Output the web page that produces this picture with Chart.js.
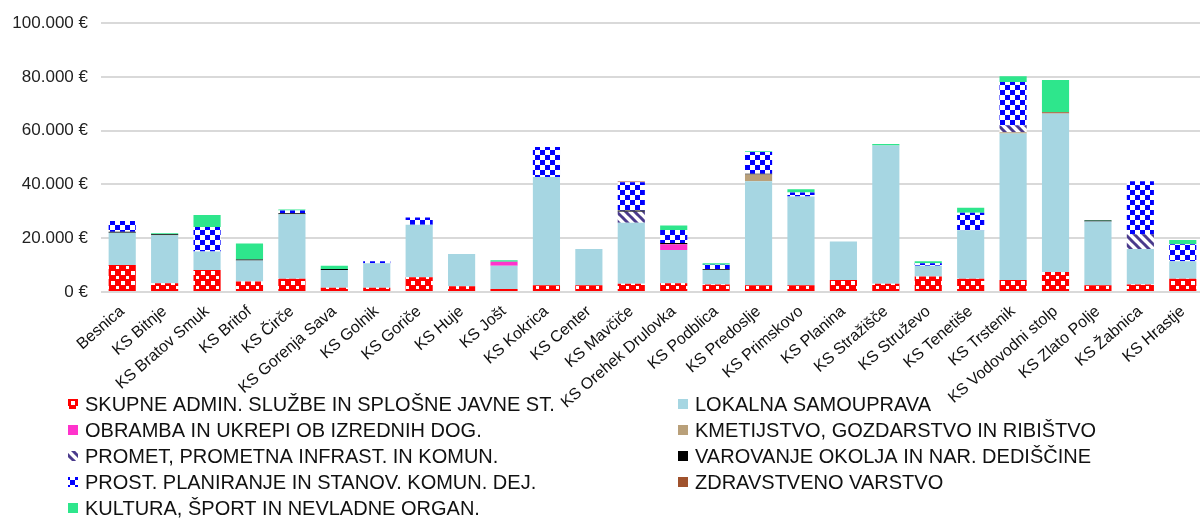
<!DOCTYPE html>
<html>
<head>
<meta charset="utf-8">
<title>Proračun KS po področjih</title>
<script src="https://cdn.jsdelivr.net/npm/chart.js@4"></script>
<style>
  html, body { margin: 0; padding: 0; background: #fff; overflow: hidden; }
  #wrap { width: 1204px; height: 519px; }
</style>
</head>
<body>
<div id="wrap"><canvas id="chart"></canvas></div>
<script>
// Categories (krajevne skupnosti)
const categories = [
    "Besnica", "KS Bitnje", "KS Bratov Smuk", "KS Britof", "KS Čirče", "KS Gorenja Sava",
    "KS Golnik", "KS Goriče", "KS Huje", "KS Jošt", "KS Kokrica", "KS Center", "KS Mavčiče",
    "KS Orehek Drulovka", "KS Podblica", "KS Predoslje", "KS Primskovo", "KS Planina",
    "KS Stražišče", "KS Struževo", "KS Tenetiše", "KS Trstenik", "KS Vodovodni stolp",
    "KS Zlato Polje", "KS Žabnica", "KS Hrastje",
]

// Series values in EUR
const skupne = [10000, 3300, 8200, 3900, 4900, 1600, 1600, 5500, 2100, 1100, 2500, 2500, 3100, 3300, 2800, 2500, 2500, 4500, 3100, 5800, 4900, 4500, 7400, 2500, 2800, 4900]
const lokalna = [12000, 17800, 6900, 7800, 24000, 6600, 9100, 19500, 12000, 8700, 40300, 13500, 22700, 12300, 5400, 38700, 33000, 14300, 51400, 4000, 18100, 54500, 59000, 23700, 13200, 6500]
const obramba = [0, 0, 0, 0, 0, 0, 0, 0, 0, 1500, 0, 0, 0, 2200, 0, 0, 0, 0, 0, 0, 0, 0, 0, 0, 0, 0]
const kmetijstvo = [0, 0, 0, 0, 0, 0, 0, 0, 0, 0, 0, 0, 0, 0, 0, 2500, 0, 0, 0, 0, 0, 400, 0, 0, 0, 0]
const promet = [0, 0, 0, 0, 0, 0, 0, 0, 0, 0, 0, 0, 4100, 0, 0, 0, 0, 0, 0, 0, 0, 2500, 0, 0, 5500, 0]
const varovanje = [400, 400, 0, 400, 400, 400, 0, 0, 0, 0, 0, 0, 400, 400, 300, 300, 0, 0, 0, 0, 0, 0, 0, 400, 0, 0]
const prostor = [4000, 0, 9100, 0, 1000, 0, 700, 2700, 0, 0, 11100, 0, 10500, 4900, 1600, 8100, 1500, 0, 0, 900, 6500, 16200, 0, 0, 19700, 6400]
const zdravstvo = [0, 0, 0, 0, 0, 0, 0, 0, 0, 0, 0, 0, 300, 0, 0, 0, 0, 0, 0, 0, 0, 0, 500, 0, 0, 0]
const kultura = [0, 400, 4400, 5900, 400, 1200, 0, 0, 0, 500, 0, 0, 0, 1600, 600, 300, 1200, 0, 600, 700, 1800, 2200, 12000, 200, 0, 1500]

// Y axis ticks
const yTicks = [0, 20000, 40000, 60000, 80000, 100000]

const canvas = document.getElementById("chart")
const ctx = canvas.getContext("2d")

// Fill patterns
function makePattern(size, draw) {
    const tile = document.createElement("canvas")
    tile.width = size
    tile.height = size
    draw(tile.getContext("2d"), size)
    return ctx.createPattern(tile, "repeat")
}

const redDots = makePattern(10, (c) => {
    c.fillStyle = "#ff0000"
    c.fillRect(0, 0, 10, 10)
    c.fillStyle = "#ffffff"
    c.fillRect(1, 1, 4, 4)
    c.fillRect(6, 6, 3, 3)
})

const blueChecker = makePattern(10, (c) => {
    c.fillStyle = "#ffffff"
    c.fillRect(0, 0, 10, 10)
    c.fillStyle = "#0000ff"
    c.fillRect(0, 0, 5, 5)
    c.fillRect(5, 5, 5, 5)
})

const purpleStripes = makePattern(9, (c, s) => {
    c.fillStyle = "#ffffff"
    c.fillRect(0, 0, s, s)
    c.strokeStyle = "#4a3a8c"
    c.lineWidth = 3
    for (let k = -1; k <= 1; k++) {
        c.beginPath()
        c.moveTo(k * s - 1, -1)
        c.lineTo(k * s + s + 1, s + 1)
        c.stroke()
    }
})

const series = [
    { label: "SKUPNE ADMIN. SLUŽBE IN SPLOŠNE JAVNE ST.", data: skupne, color: redDots },
    { label: "LOKALNA SAMOUPRAVA", data: lokalna, color: "#a6d6e2" },
    { label: "OBRAMBA IN UKREPI OB IZREDNIH DOG.", data: obramba, color: "#ff33cc" },
    { label: "KMETIJSTVO, GOZDARSTVO IN RIBIŠTVO", data: kmetijstvo, color: "#b9a07a" },
    { label: "PROMET, PROMETNA INFRAST. IN KOMUN.", data: promet, color: purpleStripes },
    { label: "VAROVANJE OKOLJA IN NAR. DEDIŠČINE", data: varovanje, color: "#000000" },
    { label: "PROST. PLANIRANJE IN STANOV. KOMUN. DEJ.", data: prostor, color: blueChecker },
    { label: "ZDRAVSTVENO VARSTVO", data: zdravstvo, color: "#a0522d" },
    { label: "KULTURA, ŠPORT IN NEVLADNE ORGAN.", data: kultura, color: "#2ee68c" },
]

function formatEur(v) {
    return String(v).replace(/\B(?=(\d{3})+(?!\d))/g, ".") + " €"
}

// Two-column legend drawn below the axis labels
const gridLegend = {
    id: "gridLegend",
    afterDraw(chart) {
        const c = chart.ctx
        c.save()
        c.font = "20px 'Liberation Sans', Arial, sans-serif"
        c.textBaseline = "middle"
        chart.data.datasets.forEach((ds, i) => {
            const col = i % 2
            const row = Math.floor(i / 2)
            const x = col === 0 ? 68 : 678
            const y = 404 + row * 26
            c.fillStyle = ds.backgroundColor
            c.fillRect(x, y - 5, 10, 10)
            c.fillStyle = "#111"
            c.fillText(ds.label, x + 17, y + 1)
        })
        c.restore()
    },
}

new Chart(ctx, {
    type: "bar",
    data: {
        labels: categories,
        datasets: series.map((s) => ({
            label: s.label,
            data: s.data,
            backgroundColor: s.color,
            borderWidth: 0,
            barPercentage: 0.64,
            categoryPercentage: 1,
        })),
    },
    options: {
        responsive: true,
        maintainAspectRatio: false,
        animation: false,
        layout: {
            padding: { top: 20, left: 0, right: 0, bottom: 0 },
        },
        plugins: {
            legend: { display: false },
            tooltip: { enabled: false },
        },
        scales: {
            x: {
                stacked: true,
                grid: { display: false },
                border: { display: false },
                ticks: {
                    autoSkip: false,
                    minRotation: 41,
                    maxRotation: 41,
                    color: "#111",
                    padding: 2,
                    font: { family: "'Liberation Sans', Arial, sans-serif", size: 16 },
                },
                afterFit: (scale) => {
                    scale.height = 227
                },
            },
            y: {
                stacked: true,
                min: 0,
                max: 100000,
                afterBuildTicks: (scale) => {
                    scale.ticks = yTicks.map((v) => ({ value: v }))
                },
                grid: {
                    color: "#d9d9d9",
                    lineWidth: 2,
                    drawTicks: false,
                },
                border: { display: false },
                ticks: {
                    color: "#222",
                    padding: 13,
                    font: { family: "'Liberation Sans', Arial, sans-serif", size: 17 },
                    callback: (v) => formatEur(v),
                },
                afterFit: (scale) => {
                    scale.width = 101
                },
            },
        },
    },
    plugins: [gridLegend],
})
</script>
</body>
</html>
